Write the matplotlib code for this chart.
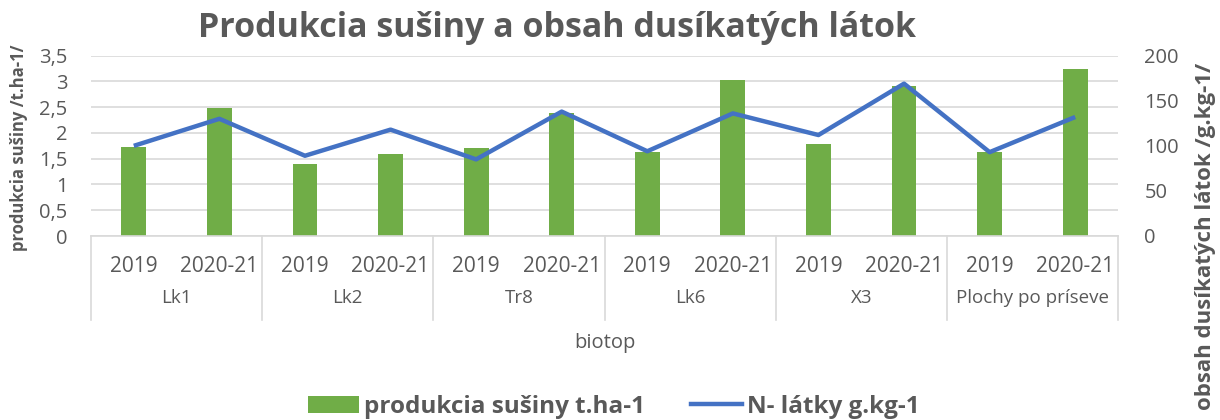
import matplotlib
matplotlib.use("Agg")
import matplotlib.pyplot as plt
import numpy as np
from matplotlib.patches import Patch
from matplotlib.lines import Line2D
from matplotlib.transforms import blended_transform_factory

plt.rcParams['font.family'] = ['Open Sans', 'DejaVu Sans']

groups = ["Lk1", "Lk2", "Tr8", "Lk6", "X3", "Plochy po príseve"]
years = ["2019", "2020-21"]
production = [1.72, 2.49, 1.40, 1.59, 1.70, 2.39, 1.63, 3.03, 1.79, 2.91, 1.63, 3.25]
nitrogen = [100, 130, 89, 118, 85, 138, 94, 136, 112, 169, 93, 132]
left_ticks = [0, 0.5, 1, 1.5, 2, 2.5, 3, 3.5]
left_labels = ["0", "0,5", "1", "1,5", "2", "2,5", "3", "3,5"]
right_ticks = [0, 50, 100, 150, 200]

GREEN = "#70AD47"
BLUE = "#4472C4"
GRAY = "#595959"
GRID = "#D9D9D9"

W, H = 1220, 420
fig = plt.figure(figsize=(W / 100, H / 100), dpi=100)
l, r, t, b = 91, 1118, 55.7, 236
ax = fig.add_axes([l / W, 1 - b / H, (r - l) / W, (b - t) / H])

n = len(production)
x = np.arange(n)
ax.bar(x, production, width=0.29, color=GREEN, zorder=2)
ax.set_xlim(-0.5, n - 0.5)
ax.set_ylim(0, 3.5)
ax.set_yticks(left_ticks)
ax.set_yticklabels(left_labels)
ax.yaxis.grid(True, color=GRID, linewidth=1.2, zorder=0)
ax.set_axisbelow(True)
for s in ["top", "left", "right"]:
    ax.spines[s].set_visible(False)
ax.spines["bottom"].set_color(GRID)
ax.spines["bottom"].set_linewidth(1.2)
ax.set_xticks([])
ax.tick_params(axis="y", length=0, labelsize=14.5, labelcolor=GRAY, pad=17)

ax2 = ax.twinx()
ax2.plot(x, nitrogen, color=BLUE, linewidth=3.2, solid_capstyle="butt", zorder=3)
ax2.set_ylim(0, 200)
ax2.set_yticks(right_ticks)
for s in ["top", "left", "right", "bottom"]:
    ax2.spines[s].set_visible(False)
ax2.tick_params(axis="y", length=0, labelsize=14.5, labelcolor=GRAY, pad=19)

trans = blended_transform_factory(ax.transData, ax.transAxes)
ph = b - t
def ay(py):
    return (b - py) / ph

for i in range(n):
    ax.text(x[i], ay(266), years[i % 2], transform=trans, ha="center", va="center",
            fontsize=15, color=GRAY, clip_on=False)
for g, name in enumerate(groups):
    ax.text(2 * g + 0.5, ay(298), name, transform=trans, ha="center", va="center",
            fontsize=13.5, color=GRAY, clip_on=False)
for k in range(len(groups) + 1):
    ax.plot([2 * k - 0.5, 2 * k - 0.5], [0, ay(320)], transform=trans, color=GRID,
            linewidth=1.2, clip_on=False)

fig.text(605 / W, 1 - 343 / H, "biotop", ha="center", va="center", fontsize=14.5, color=GRAY)
fig.text(557 / W, 1 - 28 / H, "Produkcia sušiny a obsah dusíkatých látok", ha="center",
         va="center", fontsize=24.5, fontweight="bold", color=GRAY)
fig.text(19 / W, 1 - 148 / H, "produkcia sušiny /t.ha-1/", rotation=90, ha="center",
         va="center", fontsize=12, fontweight="bold", color=GRAY)
fig.text(1205 / W, 1 - 236 / H, "obsah dusíkatých látok /g.kg-1/", rotation=90, ha="center",
         va="center", fontsize=16, fontweight="bold", color=GRAY)

handles = [Patch(facecolor=GREEN, edgecolor="none"), Line2D([0], [0], color=BLUE, linewidth=3.2)]
labels = ["produkcia sušiny t.ha-1", "N- látky g.kg-1"]
leg = fig.legend(handles, labels, loc="center", bbox_to_anchor=(614 / W, 1 - 407 / H), ncol=2,
                 frameon=False, handlelength=2.1, handleheight=0.75, handletextpad=0.2,
                 columnspacing=1.9, prop={"size": 17.5, "weight": "bold"})
for txt in leg.get_texts():
    txt.set_color(GRAY)

fig.savefig("out.png", dpi=100)
